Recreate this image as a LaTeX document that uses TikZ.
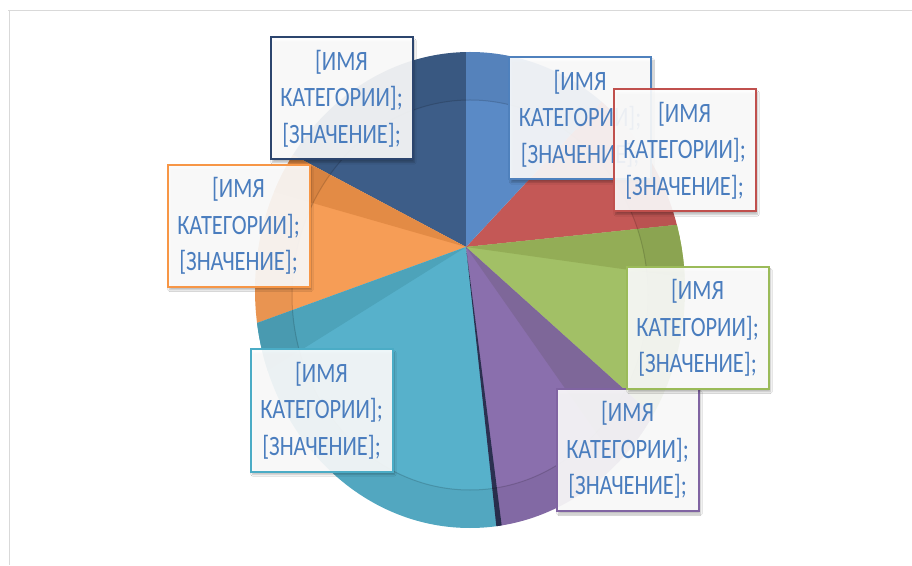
\documentclass[tikz,border=0pt]{standalone}
\usepackage{fontspec}
\usetikzlibrary{shadows.blur}
\newfontfamily\labelFont[FakeStretch=0.8]{Carlito}
\definecolor{frameGray}{HTML}{D9D9D9}
\definecolor{labelText}{HTML}{4A7DBE}
\definecolor{darkBlue}{HTML}{3D5D88}
\definecolor{darkBlueLine}{HTML}{2C456E}
\definecolor{blueMain}{HTML}{5A8AC6}
\definecolor{blueLine}{HTML}{4F81BD}
\definecolor{redMain}{HTML}{C45856}
\definecolor{redLine}{HTML}{C0504D}
\definecolor{greenMain}{HTML}{A2C066}
\definecolor{greenDark}{HTML}{93AD56}
\definecolor{greenLine}{HTML}{9BBB59}
\definecolor{purpleMain}{HTML}{8A6FAD}
\definecolor{purpleDark}{HTML}{7E6799}
\definecolor{purpleLine}{HTML}{8064A2}
\definecolor{tealMain}{HTML}{57B1CB}
\definecolor{tealDark}{HTML}{4DA3BA}
\definecolor{tealLine}{HTML}{4BACC6}
\definecolor{orangeMain}{HTML}{F69D56}
\definecolor{orangeDark}{HTML}{E38B45}
\definecolor{orangeLine}{HTML}{F79646}
\definecolor{gapDark}{HTML}{2B3050}
\newcommand\catLabel{[ИМЯ\\КАТЕГОРИИ];\\{[ЗНАЧЕНИЕ];}}

\begin{document}
\begin{tikzpicture}
[x=1pt,y=1pt,
  labelBox/.style={draw,line width=2pt,fill=white,fill opacity=0.9,text opacity=1,%
    minimum width=142pt,minimum height=122pt,inner sep=0pt,align=center,%
    text=labelText,font=\labelFont\fontsize{28}{36.5}\selectfont,%
    blur shadow={shadow xshift=2pt,shadow yshift=-3pt,shadow blur steps=6,shadow opacity=30}},%
  innerRing/.style={black,opacity=0.15,line width=1pt}]
\useasboundingbox (0,0) rectangle (912,565);
\fill[white] (0,0) rectangle (912,565);
%% frame
\draw[frameGray,line width=1pt] (8,554) -- (912,554) (9,554) -- (9,0);
%% pie slices
\coordinate (ctr) at (466,318);
\begin{scope}
\clip (470,275) ellipse [x radius=215pt, y radius=238pt];
\foreach \from/\to/\col in {90/152/darkBlue, 152/200/orangeMain, 200/277/tealMain,
  277/318/purpleMain, 318/366/greenMain, 366/407/redMain, 407/450/blueMain,
  152/164/orangeDark, 200/212/tealDark, 305/318/purpleDark, 352/366/greenDark,
  276.2/277.3/gapDark}
{
  \fill[\col] (ctr) -- ++(\from:420pt) arc[start angle=\from, end angle=\to, radius=420pt] -- cycle;
}
\fill[black,opacity=0.05,even odd rule] (470,275) ellipse [x radius=215pt, y radius=238pt]
  (470,270) ellipse [x radius=178pt, y radius=195pt];
\draw[innerRing] (470,270) ellipse [x radius=178pt, y radius=195pt];
\end{scope}
%% labels
\foreach \nodename/\x/\y/\col in {darkLbl/341.5/466.5/darkBlueLine, orangeLbl/238.5/339/orangeLine,
  tealLbl/321.5/154.5/tealLine, purpleLbl/627.5/115/purpleLine, greenLbl/697.5/237/greenLine,
  blueLbl/580/446.5/blueLine, redLbl/684.5/414.5/redLine}
{
  \node (\nodename) at (\x,\y) [labelBox,draw=\col] {\catLabel};
}
\end{tikzpicture}
\end{document}
